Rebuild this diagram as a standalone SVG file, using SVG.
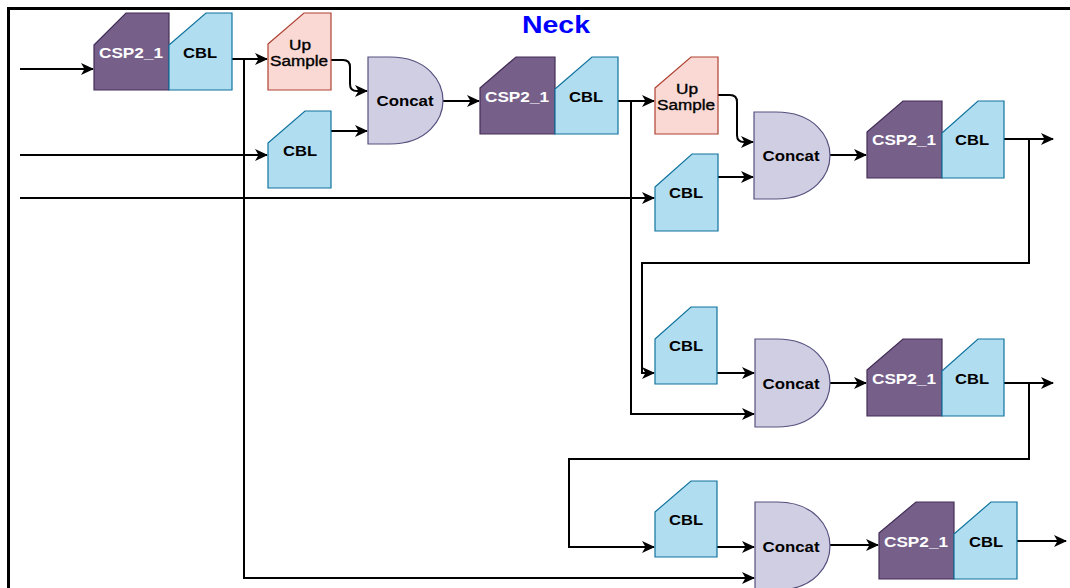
<svg xmlns="http://www.w3.org/2000/svg" width="1070" height="588" viewBox="0 0 1070 588">
<style>
  .csp{fill:#76608a;stroke:#432d57;stroke-width:1.2}
  .cbl{fill:#b1ddf0;stroke:#10739e;stroke-width:1.2}
  .ups{fill:#fad9d5;stroke:#ae4132;stroke-width:1.2}
  .cat{fill:#d0cee2;stroke:#56517e;stroke-width:1.2}
  text{font-family:"Liberation Sans",Arial,sans-serif;font-size:14px;text-anchor:middle}
  .b{font-weight:bold;fill:#000}
  .w{font-weight:bold;fill:#fff}
  .r{fill:#000;stroke:#000;stroke-width:0.35}
  .e{fill:none;stroke:#000;stroke-width:2}
</style>
<defs>
  <marker id="ah" markerWidth="14" markerHeight="12" refX="12" refY="6" orient="auto" markerUnits="userSpaceOnUse" viewBox="0 0 14 12">
    <path d="M0,0 L13,6 L0,12 L3.5,6 Z" fill="#000"/>
  </marker>
</defs>
<rect x="8.5" y="8.5" width="1100" height="700" fill="none" stroke="#000" stroke-width="3"/>
<text x="556" y="33" style="font-size:24px;font-weight:bold;fill:#0000ff" textLength="68" lengthAdjust="spacingAndGlyphs">Neck</text>

<g id="connectors">
  <path class="e" marker-end="url(#ah)" d="M20,69 H93"/>
  <path class="e" marker-end="url(#ah)" d="M232,59 H267"/>
  <path class="e" marker-end="url(#ah)" d="M232,59 H244 V578 H754"/>
  <path class="e" marker-end="url(#ah)" d="M20,155 H267"/>
  <path class="e" marker-end="url(#ah)" d="M20,198 H654"/>
  <path class="e" marker-end="url(#ah)" d="M331,60 H343 Q350,60 350,67 V84 Q350,91 357,91 H367"/>
  <path class="e" marker-end="url(#ah)" d="M331,131 H367"/>
  <path class="e" marker-end="url(#ah)" d="M443,101 H479"/>
  <path class="e" marker-end="url(#ah)" d="M618,101 H654"/>
  <path class="e" marker-end="url(#ah)" d="M618,101 H631 V414 H754"/>
  <path class="e" marker-end="url(#ah)" d="M718,95 H730 Q737,95 737,102 V135 Q737,142 744,142 H753"/>
  <path class="e" marker-end="url(#ah)" d="M718,177 H753"/>
  <path class="e" marker-end="url(#ah)" d="M830,155 H866"/>
  <path class="e" marker-end="url(#ah)" d="M1004,139 H1053"/>
  <path class="e" marker-end="url(#ah)" d="M1004,139 H1029 V263 H642 V373 H654"/>
  <path class="e" marker-end="url(#ah)" d="M717,373 H754"/>
  <path class="e" marker-end="url(#ah)" d="M830,383 H866"/>
  <path class="e" marker-end="url(#ah)" d="M1004,383 H1053"/>
  <path class="e" marker-end="url(#ah)" d="M1004,383 H1029 V459 H569 V547 H654"/>
  <path class="e" marker-end="url(#ah)" d="M717,547 H754"/>
  <path class="e" marker-end="url(#ah)" d="M830,545 H878"/>
  <path class="e" marker-end="url(#ah)" d="M1017,541 H1066"/>
</g>

<g id="csp1"><path class="csp" d="M94,45 L126,13 H169 V90 H94 Z"/><text class="w" x="131" y="58" textLength="64" lengthAdjust="spacingAndGlyphs">CSP2_1</text></g>
<g id="cbl1"><path class="cbl" d="M169,45 L206,13 H232 V90 H169 Z"/><text class="b" x="200" y="58" textLength="34" lengthAdjust="spacingAndGlyphs">CBL</text></g>
<g id="ups1"><path class="ups" d="M268,44 L304,13 H331 V90 H268 Z"/><text class="r" x="300" y="50" textLength="22" lengthAdjust="spacingAndGlyphs">Up</text><text class="r" x="299" y="66" textLength="58" lengthAdjust="spacingAndGlyphs">Sample</text></g>
<g id="cbl2"><path class="cbl" d="M268,143 L305,111 H331 V188 H268 Z"/><text class="b" x="300" y="156" textLength="34" lengthAdjust="spacingAndGlyphs">CBL</text></g>
<g id="concat1"><path class="cat" d="M368,57 H390 C428,57 443,82 443,100.5 C443,119 428,144 390,144 H368 Z"/><text class="b" x="405" y="106" textLength="57" lengthAdjust="spacingAndGlyphs">Concat</text></g>
<g id="csp2"><path class="csp" d="M480,88 L516,57 H555 V134 H480 Z"/><text class="w" x="517" y="102" textLength="64" lengthAdjust="spacingAndGlyphs">CSP2_1</text></g>
<g id="cbl3"><path class="cbl" d="M555,89 L592,57 H618 V134 H555 Z"/><text class="b" x="586" y="102" textLength="34" lengthAdjust="spacingAndGlyphs">CBL</text></g>
<g id="ups2"><path class="ups" d="M655,88 L691,57 H718 V134 H655 Z"/><text class="r" x="687" y="94" textLength="22" lengthAdjust="spacingAndGlyphs">Up</text><text class="r" x="686" y="110" textLength="58" lengthAdjust="spacingAndGlyphs">Sample</text></g>
<g id="cbl5"><path class="cbl" d="M655,187 L692,154 H718 V231 H655 Z"/><text class="b" x="686" y="198" textLength="34" lengthAdjust="spacingAndGlyphs">CBL</text></g>
<g id="concat2"><path class="cat" d="M754,112 H776 C815,112 830,137 830,155.5 C830,174 815,199 776,199 H754 Z"/><text class="b" x="791" y="161" textLength="57" lengthAdjust="spacingAndGlyphs">Concat</text></g>
<g id="csp3"><path class="csp" d="M867,132 L903,101 H942 V178 H867 Z"/><text class="w" x="904" y="145" textLength="64" lengthAdjust="spacingAndGlyphs">CSP2_1</text></g>
<g id="cbl4"><path class="cbl" d="M942,133 L978,101 H1004 V178 H942 Z"/><text class="b" x="972" y="145" textLength="34" lengthAdjust="spacingAndGlyphs">CBL</text></g>
<g id="cbl6"><path class="cbl" d="M655,339 L691,307 H717 V384 H655 Z"/><text class="b" x="686" y="351" textLength="34" lengthAdjust="spacingAndGlyphs">CBL</text></g>
<g id="concat3"><path class="cat" d="M755,339 H777 C815,339 830,364 830,383 C830,402 815,427 777,427 H755 Z"/><text class="b" x="791" y="389" textLength="57" lengthAdjust="spacingAndGlyphs">Concat</text></g>
<g id="csp4"><path class="csp" d="M867,370 L903,339 H942 V416 H867 Z"/><text class="w" x="904" y="384" textLength="64" lengthAdjust="spacingAndGlyphs">CSP2_1</text></g>
<g id="cbl7"><path class="cbl" d="M942,371 L978,339 H1004 V416 H942 Z"/><text class="b" x="972" y="384" textLength="34" lengthAdjust="spacingAndGlyphs">CBL</text></g>
<g id="cbl8"><path class="cbl" d="M655,512 L691,481 H717 V557 H655 Z"/><text class="b" x="686" y="525" textLength="34" lengthAdjust="spacingAndGlyphs">CBL</text></g>
<g id="concat4"><path class="cat" d="M755,502 H777 C815,502 830,527 830,546 C830,565 815,590 777,590 H755 Z"/><text class="b" x="791" y="552" textLength="57" lengthAdjust="spacingAndGlyphs">Concat</text></g>
<g id="csp5"><path class="csp" d="M879,533 L916,502 H954 V579 H879 Z"/><text class="w" x="916" y="547" textLength="64" lengthAdjust="spacingAndGlyphs">CSP2_1</text></g>
<g id="cbl9"><path class="cbl" d="M954,534 L991,502 H1017 V579 H954 Z"/><text class="b" x="986" y="547" textLength="34" lengthAdjust="spacingAndGlyphs">CBL</text></g>
</svg>
